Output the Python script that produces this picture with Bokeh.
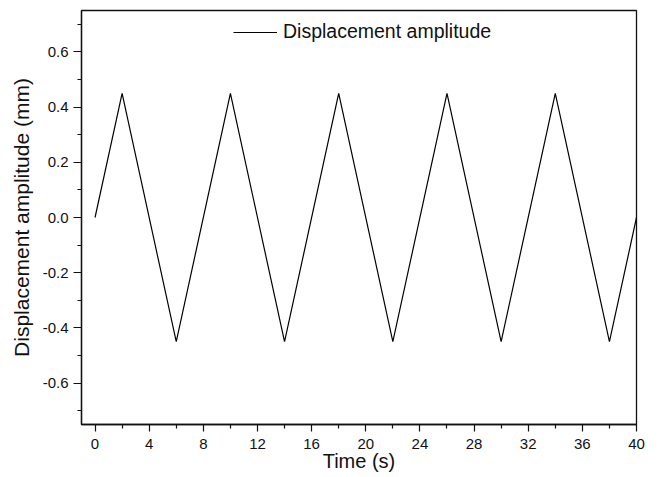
from bokeh.plotting import figure
from bokeh.models import FixedTicker, Legend, LegendItem, NumeralTickFormatter
from bokeh.embed import file_html
from bokeh.resources import INLINE

# Data
time_s = [0, 2, 6, 10, 14, 18, 22, 26, 30, 34, 38, 40]
displacement_mm = [0.0, 0.45, -0.45, 0.45, -0.45, 0.45, -0.45, 0.45, -0.45, 0.45, -0.45, 0.0]
x_ticks = [0, 4, 8, 12, 16, 20, 24, 28, 32, 36, 40]
x_minor = [-2, 2, 6, 10, 14, 18, 22, 26, 30, 34, 38]
y_ticks = [-0.6, -0.4, -0.2, 0.0, 0.2, 0.4, 0.6]
y_minor = [-0.7, -0.5, -0.3, -0.1, 0.1, 0.3, 0.5, 0.7]
series_name = "Displacement amplitude"

FONT = "Liberation Sans"

p = figure(width=659, height=477, x_range=(-1, 40), y_range=(-0.75, 0.75),
           output_backend="svg", toolbar_location=None,
           min_border_left=81, min_border_right=23, min_border_top=10, min_border_bottom=53)
p.background_fill_color = "white"
p.border_fill_color = "white"
p.grid.visible = False
p.outline_line_color = "#111111"
p.outline_line_width = 1.3
p.outline_line_alpha = 1.0

r = p.line(time_s, displacement_mm, line_color="black", line_width=1.2)

for ax in (p.xaxis[0], p.yaxis[0]):
    ax.axis_line_color = "#111111"
    ax.axis_line_width = 1.3
    ax.major_tick_line_color = "#111111"
    ax.minor_tick_line_color = "#111111"
    ax.major_tick_line_width = 1.2
    ax.minor_tick_line_width = 1.2
    ax.major_tick_in = 0
    ax.minor_tick_in = 0
    ax.major_label_text_font = FONT
    ax.major_label_text_font_size = "15px"
    ax.major_label_text_color = "#111111"
    ax.axis_label_text_font = FONT
    ax.axis_label_text_font_style = "normal"
    ax.axis_label_text_color = "#111111"

p.xaxis[0].ticker = FixedTicker(ticks=x_ticks, minor_ticks=x_minor)
p.xaxis[0].major_tick_out = 7
p.xaxis[0].minor_tick_out = 4
p.xaxis[0].major_label_standoff = 7
p.xaxis[0].axis_label = "Time (s)"
p.xaxis[0].axis_label_text_font_size = "20px"
p.xaxis[0].axis_label_standoff = -2

p.yaxis[0].ticker = FixedTicker(ticks=y_ticks, minor_ticks=y_minor)
p.yaxis[0].formatter = NumeralTickFormatter(format="0.0")
p.yaxis[0].major_tick_out = 8
p.yaxis[0].minor_tick_out = 4
p.yaxis[0].major_label_standoff = 5
p.yaxis[0].axis_label = "Displacement amplitude (mm)"
p.yaxis[0].axis_label_text_font_size = "21px"
p.yaxis[0].axis_label_standoff = 7

legend = Legend(items=[LegendItem(label=series_name, renderers=[r])],
                location=(152, 381), orientation="vertical")
legend.border_line_color = None
legend.background_fill_alpha = 0
legend.padding = 0
legend.margin = 0
legend.spacing = 0
legend.glyph_width = 44
legend.glyph_height = 20
legend.label_standoff = 6
legend.label_text_font = FONT
legend.label_text_font_size = "19.5px"
legend.label_text_color = "#111111"
p.add_layout(legend, "center")

open("out.html", "w").write(file_html(p, INLINE))
